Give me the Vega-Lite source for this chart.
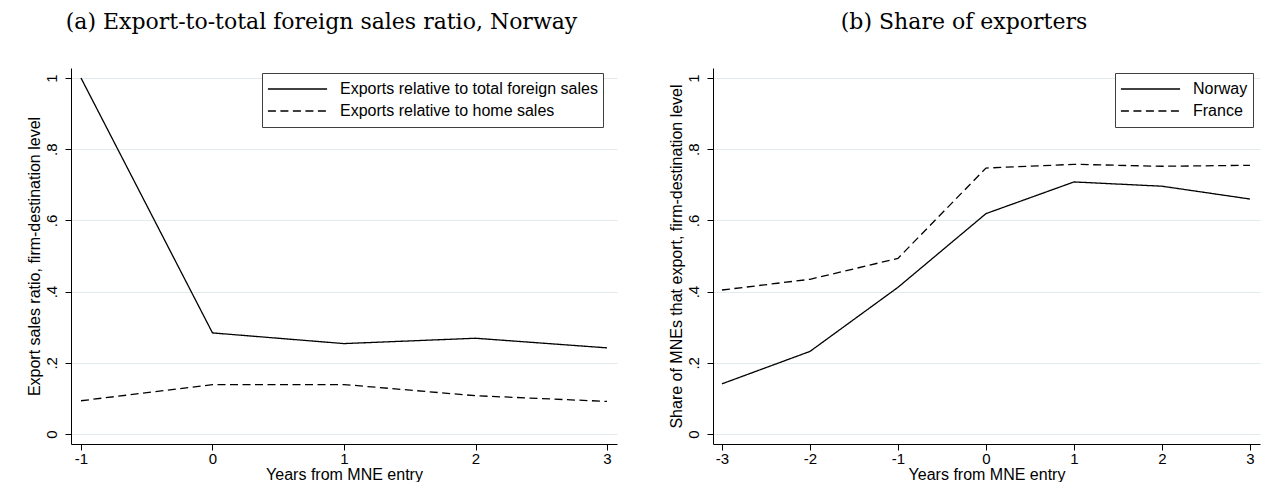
{
  "$schema": "https://vega.github.io/schema/vega-lite/v6.json",
  "background": "white",
  "padding": {"left": 26, "top": 11, "right": 5, "bottom": 0},
  "spacing": 51,
  "config": {
    "font": "Liberation Sans",
    "view": {"stroke": null},
    "title": {"font": "DejaVu Serif", "fontSize": 22, "fontWeight": "normal", "color": "black", "offset": 34, "frame": "bounds", "anchor": "middle"},
    "axis": {
      "domainColor": "black", "domainWidth": 1, "tickColor": "black", "tickSize": 6, "tickWidth": 1,
      "labelColor": "black", "labelFontSize": 15, "titleColor": "black", "titleFontSize": 16, "titleFontWeight": "normal",
      "gridColor": "#e2eaee", "gridWidth": 1
    },
    "legend": {
      "strokeColor": "#404040", "fillColor": "white", "padding": 5, "symbolType": "stroke", "symbolSize": 3500,
      "symbolStrokeColor": "black", "symbolStrokeWidth": 1.3, "clipHeight": 22, "rowPadding": 0,
      "labelFontSize": 16, "labelColor": "black", "labelOffset": 12, "labelLimit": 400
    }
  },
  "hconcat": [
    {
      "width": 546,
      "height": 376,
      "title": {"text": "(a) Export-to-total foreign sales ratio, Norway"},
      "data": {"values": [
        {"year": -1, "value": 1.0, "series": "Exports relative to total foreign sales"},
        {"year": 0, "value": 0.284, "series": "Exports relative to total foreign sales"},
        {"year": 1, "value": 0.254, "series": "Exports relative to total foreign sales"},
        {"year": 2, "value": 0.269, "series": "Exports relative to total foreign sales"},
        {"year": 3, "value": 0.242, "series": "Exports relative to total foreign sales"},
        {"year": -1, "value": 0.0935, "series": "Exports relative to home sales"},
        {"year": 0, "value": 0.1385, "series": "Exports relative to home sales"},
        {"year": 1, "value": 0.139, "series": "Exports relative to home sales"},
        {"year": 2, "value": 0.1076, "series": "Exports relative to home sales"},
        {"year": 3, "value": 0.0916, "series": "Exports relative to home sales"}
      ]},
      "mark": {"type": "line", "color": "black", "strokeWidth": 1.3},
      "encoding": {
        "x": {"field": "year", "type": "quantitative",
          "scale": {"domain": [-1.076, 3.076], "nice": false, "zero": false},
          "axis": {"values": [-1, 0, 1, 2, 3], "title": "Years from MNE entry", "grid": false, "labelExpr": "'' + datum.value", "labelPadding": 1, "titlePadding": 0}},
        "y": {"field": "value", "type": "quantitative",
          "scale": {"domain": [-0.028, 1.028], "nice": false, "zero": false},
          "axis": {"values": [0, 0.2, 0.4, 0.6, 0.8, 1], "title": "Export sales ratio, firm-destination level", "grid": true,
            "labelAngle": -90, "labelAlign": "center", "labelBaseline": "bottom", "labelPadding": 6, "titlePadding": 2,
            "labelExpr": "datum.value == 0 ? '0' : datum.value == 1 ? '1' : '.' + round(datum.value * 10)"}},
        "strokeDash": {"field": "series", "type": "nominal",
          "scale": {"domain": ["Exports relative to total foreign sales", "Exports relative to home sales"], "range": [[1, 0], [8, 4.5]]},
          "legend": {"title": null, "orient": "none", "legendX": 191, "legendY": 5}}
      }
    },
    {
      "width": 547,
      "height": 376,
      "title": {"text": "(b) Share of exporters"},
      "data": {"values": [
        {"year": -3, "value": 0.141, "series": "Norway"},
        {"year": -2, "value": 0.232, "series": "Norway"},
        {"year": -1, "value": 0.412, "series": "Norway"},
        {"year": 0, "value": 0.619, "series": "Norway"},
        {"year": 1, "value": 0.708, "series": "Norway"},
        {"year": 2, "value": 0.696, "series": "Norway"},
        {"year": 3, "value": 0.660, "series": "Norway"},
        {"year": -3, "value": 0.4045, "series": "France"},
        {"year": -2, "value": 0.4345, "series": "France"},
        {"year": -1, "value": 0.4934, "series": "France"},
        {"year": 0, "value": 0.747, "series": "France"},
        {"year": 1, "value": 0.7575, "series": "France"},
        {"year": 2, "value": 0.752, "series": "France"},
        {"year": 3, "value": 0.7547, "series": "France"}
      ]},
      "mark": {"type": "line", "color": "black", "strokeWidth": 1.3},
      "encoding": {
        "x": {"field": "year", "type": "quantitative",
          "scale": {"domain": [-3.102, 3.114], "nice": false, "zero": false},
          "axis": {"values": [-3, -2, -1, 0, 1, 2, 3], "title": "Years from MNE entry", "grid": false, "labelExpr": "'' + datum.value", "labelPadding": 1, "titlePadding": 0}},
        "y": {"field": "value", "type": "quantitative",
          "scale": {"domain": [-0.028, 1.028], "nice": false, "zero": false},
          "axis": {"values": [0, 0.2, 0.4, 0.6, 0.8, 1], "title": "Share of MNEs that export, firm-destination level", "grid": true,
            "labelAngle": -90, "labelAlign": "center", "labelBaseline": "bottom", "labelPadding": 6, "titlePadding": 2,
            "labelExpr": "datum.value == 0 ? '0' : datum.value == 1 ? '1' : '.' + round(datum.value * 10)"}},
        "strokeDash": {"field": "series", "type": "nominal",
          "scale": {"domain": ["Norway", "France"], "range": [[1, 0], [8, 4.5]]},
          "legend": {"title": null, "orient": "none", "legendX": 402, "legendY": 5}}
      }
    }
  ],
  "resolve": {"scale": {"strokeDash": "independent"}}
}
